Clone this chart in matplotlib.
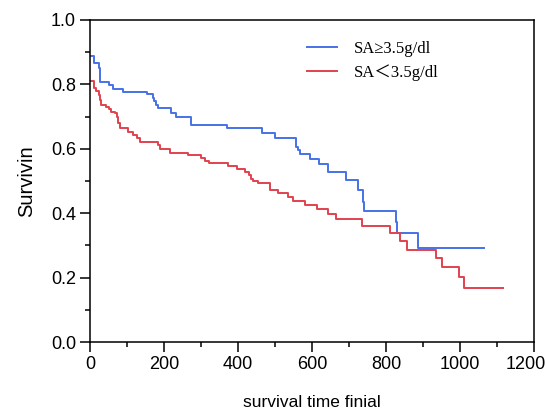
import numpy as np
import matplotlib
matplotlib.use("Agg")
import matplotlib.pyplot as plt
import matplotlib.transforms as mtransforms
from matplotlib.ticker import MultipleLocator

# Kaplan-Meier steps (time, survival after the step)
high_time = [0, 10, 24, 26, 28, 50, 62, 90, 153, 171, 174, 178, 184, 220, 232,
             274, 370, 465, 501, 557, 562, 568, 595, 619, 642, 691, 725, 737,
             741, 828, 830, 886, 1064]
high_surv = [0.888, 0.866, 0.850, 0.834, 0.808, 0.798, 0.786, 0.777, 0.770,
             0.757, 0.747, 0.737, 0.727, 0.712, 0.700, 0.674, 0.664, 0.648,
             0.634, 0.607, 0.596, 0.584, 0.568, 0.553, 0.529, 0.503, 0.472,
             0.436, 0.408, 0.374, 0.340, 0.291, 0.291]

low_time = [0, 10, 15, 23, 28, 30, 44, 50, 57, 68, 73, 77, 82, 104, 117, 126,
            135, 185, 190, 216, 265, 300, 312, 322, 373, 397, 420, 431, 436,
            440, 454, 487, 508, 535, 548, 581, 613, 642, 665, 735, 811, 837,
            856, 934, 950, 996, 1012, 1116]
low_surv = [0.810, 0.790, 0.778, 0.767, 0.752, 0.736, 0.731, 0.723, 0.715,
            0.710, 0.700, 0.679, 0.664, 0.653, 0.643, 0.632, 0.622, 0.612,
            0.600, 0.588, 0.581, 0.570, 0.563, 0.555, 0.547, 0.537, 0.529,
            0.519, 0.505, 0.501, 0.493, 0.472, 0.462, 0.449, 0.439, 0.426,
            0.412, 0.398, 0.382, 0.360, 0.340, 0.315, 0.286, 0.260, 0.234,
            0.201, 0.169, 0.169]

labels = ["SA\u22653.5g/dl", "SA\uff1c3.5g/dl"]

plt.rcParams['font.family'] = ['Liberation Sans', 'DejaVu Sans']

fig = plt.figure(figsize=(5.45, 4.11), dpi=100)
ax = fig.add_axes([90 / 545, 69 / 411, 444 / 545, 322 / 411])

ax.step(high_time, high_surv, where='post', color='#4672e6', lw=1.4, label=labels[0])
ax.step(low_time, low_surv, where='post', color='#e0424f', lw=1.4, label=labels[1])

ax.set_xlim(0, 1200)
ax.set_ylim(0, 1.0)
ax.set_xticks(np.arange(0, 1201, 200))
ax.xaxis.set_minor_locator(MultipleLocator(100))
ax.yaxis.set_major_locator(MultipleLocator(0.2))
ax.yaxis.set_minor_locator(MultipleLocator(0.1))
ax.yaxis.set_major_formatter(plt.FormatStrFormatter('%.1f'))

for s in ax.spines.values():
    s.set_linewidth(1.1)
ax.tick_params(which='major', direction='out', length=7, width=1.1, labelsize=13, pad=3)
ax.tick_params(which='minor', direction='out', length=3.5, width=1.1)

ax.set_xlabel("survival time finial", fontsize=12.5, labelpad=16)
ax.set_ylabel("Survivin", fontsize=14.5, labelpad=11)

# the 1200 label sits at the right edge, nudge it in a little
fig.canvas.draw()
for lab in ax.get_xticklabels():
    if lab.get_text() == '1200':
        lab.set_transform(lab.get_transform() + mtransforms.ScaledTranslation(-8 / 100, 0, fig.dpi_scale_trans))

leg = ax.legend(loc='upper left', bbox_to_anchor=(0.489, 0.935), frameon=False,
                borderpad=0, borderaxespad=0,
                handlelength=1.8, handletextpad=1.0, labelspacing=0.45,
                prop={'family': ['Liberation Serif', 'Noto Sans CJK SC'], 'size': 12})

fig.savefig("out.png", dpi=100)
